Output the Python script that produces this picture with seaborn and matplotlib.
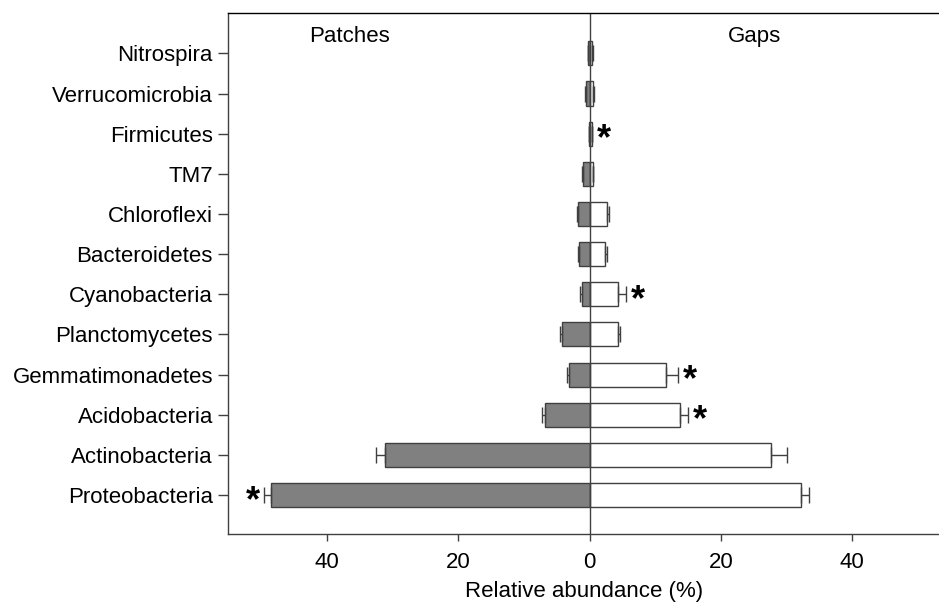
import numpy as np
import pandas as pd
import matplotlib
matplotlib.use("Agg")
import matplotlib.pyplot as plt
from matplotlib.ticker import FuncFormatter
import seaborn as sns

# phylum order, top to bottom
phyla = ["Nitrospira", "Verrucomicrobia", "Firmicutes", "TM7", "Chloroflexi",
         "Bacteroidetes", "Cyanobacteria", "Planctomycetes", "Gemmatimonadetes",
         "Acidobacteria", "Actinobacteria", "Proteobacteria"]

# relative abundance (%) and standard errors
patches = [0.2, 0.5, 0.05, 1.0, 1.7, 1.55, 1.1, 4.2, 3.1, 6.7, 31.1, 48.5]
patches_err = [0.1, 0.15, 0.05, 0.2, 0.25, 0.15, 0.35, 0.25, 0.25, 0.6, 1.4, 1.0]
gaps = [0.4, 0.6, 0.4, 0.5, 2.6, 2.4, 4.4, 4.3, 11.6, 13.7, 27.7, 32.2]
gaps_err = [0.1, 0.15, 0.05, 0.1, 0.35, 0.3, 1.2, 0.3, 1.9, 1.3, 2.4, 1.2]

# significant differences (asterisks)
sig_patches = ["Proteobacteria"]
sig_gaps = ["Firmicutes", "Cyanobacteria", "Gemmatimonadetes", "Acidobacteria"]

sns.set_theme(style="white")
plt.rcParams["font.family"] = ["Liberation Sans", "DejaVu Sans"]

df = pd.DataFrame({"phylum": phyla, "patches": patches, "gaps": gaps,
                   "patches_err": patches_err, "gaps_err": gaps_err})

fig = plt.figure(figsize=(9.39, 6.02), dpi=100)
ax = fig.add_axes([0.243, 0.113, 0.757, 0.865])

edge = "#404040"
sns.barplot(x=-df["patches"], y=df["phylum"], orient="h", color="#808080",
            saturation=1, width=0.6, edgecolor=edge, linewidth=1, ax=ax)
sns.barplot(x=df["gaps"], y=df["phylum"], orient="h", color="white",
            saturation=1, width=0.6, edgecolor=edge, linewidth=1, ax=ax)

ypos = np.arange(len(phyla))
zeros = np.zeros(len(phyla))
ax.errorbar(-df["patches"], ypos, xerr=[df["patches_err"], zeros], fmt="none",
            ecolor=edge, elinewidth=1, capsize=6, capthick=1)
ax.errorbar(df["gaps"], ypos, xerr=[zeros, df["gaps_err"]], fmt="none",
            ecolor=edge, elinewidth=1, capsize=6, capthick=1)

ax.axvline(0, color=edge, lw=1)

star = dict(textcoords="offset points", ha="center", va="center",
            fontsize=26, fontweight="bold", color="black")
for name in sig_patches:
    i = phyla.index(name)
    x = -(df.loc[i, "patches"] + df.loc[i, "patches_err"])
    ax.annotate("*", xy=(x, i), xytext=(-8.5, -4.5), **star)
for name in sig_gaps:
    i = phyla.index(name)
    x = df.loc[i, "gaps"] + df.loc[i, "gaps_err"]
    ax.annotate("*", xy=(x, i), xytext=(8.5, -4.5), **star)

ax.text(0.17, 0.955, "Patches", transform=ax.transAxes, ha="center", va="center",
        fontsize=16, color="black")
ax.text(0.74, 0.955, "Gaps", transform=ax.transAxes, ha="center", va="center",
        fontsize=16, color="black")

ax.set_xlim(-55, 53.2)
ax.set_ylim(len(phyla) - 1 + 0.97, -1.0)
ax.set_xticks([-40, -20, 0, 20, 40])
ax.xaxis.set_major_formatter(FuncFormatter(lambda v, p: f"{abs(v):.0f}"))
ax.set_xlabel("Relative abundance (%)", fontsize=16, labelpad=6, color="black")
ax.set_ylabel("")
ax.tick_params(axis="both", labelsize=16, colors="black")
ax.tick_params(axis="y", length=7, width=1, color=edge, left=True, pad=4)
ax.tick_params(axis="x", length=5, width=1, color=edge, bottom=True, pad=8)

for side in ["left", "bottom", "top"]:
    ax.spines[side].set_color(edge)
    ax.spines[side].set_linewidth(1)
ax.spines["top"].set_color("black")
ax.spines["right"].set_visible(False)

plt.savefig("out.png", dpi=100)
plt.close()
